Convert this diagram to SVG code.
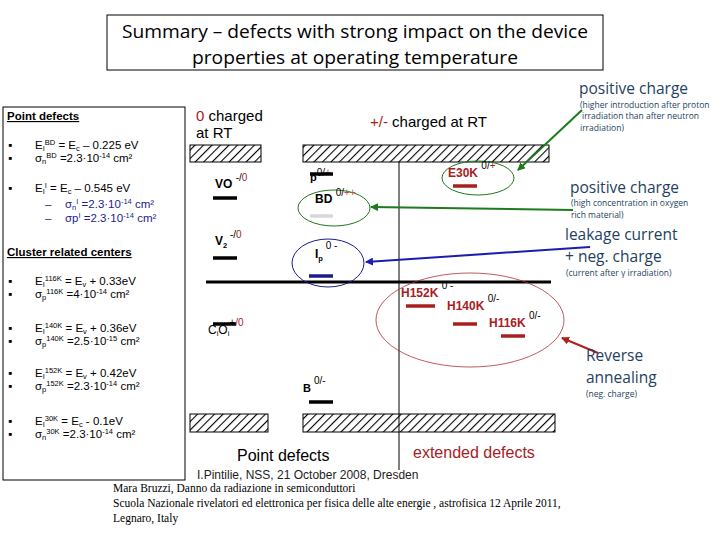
<svg xmlns="http://www.w3.org/2000/svg" width="720" height="540" viewBox="0 0 720 540">
<defs>
<style>
text{font-family:"Liberation Sans",Arial,sans-serif}
.lf{font-size:11.5px;fill:#000}
.hd{font-size:11.5px;font-weight:bold;text-decoration:underline}
.bl{fill:#1c1c8c}
.rd{fill:#a8201e}
.or{fill:#c0502a}
.sm{font-size:7.5px}
.big{font-size:15px}
.lab{font-size:12px;font-weight:bold}
.rl{font-size:12px;font-weight:bold;fill:#a8201e}
.rt{font-family:"Open Sans","Noto Sans",sans-serif;fill:#243f60}
.rt1{font-size:15.5px}
.rt2{font-size:8.5px}
.lvl{stroke-width:3.5}
.ft{font-family:"Liberation Serif",serif;font-size:11.5px}
</style>
<pattern id="hatch" width="6" height="6" patternUnits="userSpaceOnUse" patternTransform="rotate(45)">
<rect width="6" height="6" fill="#fff"/>
<line x1="0" y1="0" x2="0" y2="6" stroke="#000" stroke-width="2.2"/>
</pattern>
<marker id="ag" markerWidth="8" markerHeight="8" refX="7" refY="4" orient="auto" markerUnits="userSpaceOnUse"><path d="M0,0 L8,4 L0,8 z" fill="#1e7a1e"/></marker>
<marker id="ab" markerWidth="8" markerHeight="8" refX="7" refY="4" orient="auto" markerUnits="userSpaceOnUse"><path d="M0,0 L8,4 L0,8 z" fill="#1c1cb0"/></marker>
<marker id="ar" markerWidth="8" markerHeight="8" refX="7" refY="4" orient="auto" markerUnits="userSpaceOnUse"><path d="M0,0 L8,4 L0,8 z" fill="#b0201e"/></marker>
</defs>
<rect width="720" height="540" fill="#fff"/>

<g id="title">
<rect x="107" y="15" width="496" height="55" fill="#fff" stroke="#000" stroke-width="1"/>
<text x="355" y="38" text-anchor="middle" style="font-family:'Open Sans','Noto Sans',sans-serif;font-size:18px" textLength="466" lengthAdjust="spacingAndGlyphs">Summary – defects with strong impact on the device</text>
<text x="355" y="64" text-anchor="middle" style="font-family:'Open Sans','Noto Sans',sans-serif;font-size:18px" textLength="326" lengthAdjust="spacingAndGlyphs">properties at operating temperature</text>
</g>

<g id="left-panel">
<rect x="3" y="107" width="182" height="373" fill="none" stroke="#000" stroke-width="1"/>
<text x="7" y="120" class="hd">Point defects</text>
<text x="8" y="149" class="lf">▪</text>
<text x="8" y="162" class="lf">▪</text>
<text x="35" y="149" class="lf">E<tspan class="sm" dy="2">I</tspan><tspan class="sm" dy="-6">BD</tspan><tspan dy="4"> = E</tspan><tspan class="sm" dy="2">c</tspan><tspan dy="-2"> – 0.225 eV</tspan></text>
<text x="35" y="162" class="lf">σ<tspan class="sm" dy="2">n</tspan><tspan class="sm" dy="-6">BD</tspan><tspan dy="4"> =2.3·10</tspan><tspan class="sm" dy="-4">-14</tspan><tspan dy="4"> cm²</tspan></text>
<text x="8" y="192" class="lf">▪</text>
<text x="35" y="192" class="lf">E<tspan class="sm" dy="2">I</tspan><tspan class="sm" dy="-6">I</tspan><tspan dy="4"> = E</tspan><tspan class="sm" dy="2">c</tspan><tspan dy="-2"> – 0.545 eV</tspan></text>
<text x="45" y="208" class="lf bl">–</text>
<text x="65" y="208" class="lf bl">σ<tspan class="sm" dy="2">n</tspan><tspan class="sm" dy="-6">I</tspan><tspan dy="4"> =2.3·10</tspan><tspan class="sm" dy="-4">-14</tspan><tspan dy="4"> cm²</tspan></text>
<text x="45" y="222" class="lf bl">–</text>
<text x="65" y="222" class="lf bl">σp<tspan class="sm" dy="-4">I</tspan><tspan dy="4"> =2.3·10</tspan><tspan class="sm" dy="-4">-14</tspan><tspan dy="4"> cm²</tspan></text>

<text x="7" y="256" class="hd">Cluster related centers</text>
<text x="8" y="285" class="lf">▪</text>
<text x="8" y="298" class="lf">▪</text>
<text x="35" y="285" class="lf">E<tspan class="sm" dy="2">I</tspan><tspan class="sm" dy="-6">116K</tspan><tspan dy="4"> = E</tspan><tspan class="sm" dy="2">v</tspan><tspan dy="-2"> + 0.33eV</tspan></text>
<text x="35" y="298" class="lf">σ<tspan class="sm" dy="2">p</tspan><tspan class="sm" dy="-6">116K</tspan><tspan dy="4"> =4·10</tspan><tspan class="sm" dy="-4">-14</tspan><tspan dy="4"> cm²</tspan></text>
<text x="8" y="332" class="lf">▪</text>
<text x="8" y="345" class="lf">▪</text>
<text x="35" y="332" class="lf">E<tspan class="sm" dy="2">I</tspan><tspan class="sm" dy="-6">140K</tspan><tspan dy="4"> = E</tspan><tspan class="sm" dy="2">v</tspan><tspan dy="-2"> + 0.36eV</tspan></text>
<text x="35" y="345" class="lf">σ<tspan class="sm" dy="2">p</tspan><tspan class="sm" dy="-6">140K</tspan><tspan dy="4"> =2.5·10</tspan><tspan class="sm" dy="-4">-15</tspan><tspan dy="4"> cm²</tspan></text>
<text x="8" y="377" class="lf">▪</text>
<text x="8" y="390" class="lf">▪</text>
<text x="35" y="377" class="lf">E<tspan class="sm" dy="2">I</tspan><tspan class="sm" dy="-6">152K</tspan><tspan dy="4"> = E</tspan><tspan class="sm" dy="2">v</tspan><tspan dy="-2"> + 0.42eV</tspan></text>
<text x="35" y="390" class="lf">σ<tspan class="sm" dy="2">p</tspan><tspan class="sm" dy="-6">152K</tspan><tspan dy="4"> =2.3·10</tspan><tspan class="sm" dy="-4">-14</tspan><tspan dy="4"> cm²</tspan></text>
<text x="8" y="425" class="lf">▪</text>
<text x="8" y="438" class="lf">▪</text>
<text x="35" y="425" class="lf">E<tspan class="sm" dy="2">I</tspan><tspan class="sm" dy="-6">30K</tspan><tspan dy="4"> = E</tspan><tspan class="sm" dy="2">c</tspan><tspan dy="-2"> - 0.1eV</tspan></text>
<text x="35" y="438" class="lf">σ<tspan class="sm" dy="2">n</tspan><tspan class="sm" dy="-6">30K</tspan><tspan dy="4"> =2.3·10</tspan><tspan class="sm" dy="-4">-14</tspan><tspan dy="4"> cm²</tspan></text>
</g>

<g id="band-diagram">
<text x="196" y="121" class="big"><tspan class="rd">0</tspan> charged</text>
<text x="196" y="138" class="big">at RT</text>
<text x="370" y="127" class="big"><tspan class="rd">+/-</tspan> charged at RT</text>
<rect x="190" y="145" width="71" height="17" fill="url(#hatch)" stroke="#000" stroke-width="1"/>
<rect x="303" y="145" width="246" height="17" fill="url(#hatch)" stroke="#000" stroke-width="1"/>
<rect x="190" y="414" width="78" height="18" fill="url(#hatch)" stroke="#000" stroke-width="1"/>
<rect x="303" y="414" width="252" height="18" fill="url(#hatch)" stroke="#000" stroke-width="1"/>
<line x1="399" y1="162" x2="399" y2="470" stroke="#000" stroke-width="1"/>
<line x1="206" y1="282" x2="551" y2="282" stroke="#000" stroke-width="3"/>
<text x="237" y="461" style="font-size:16px">Point defects</text>
<text x="413" y="458" style="font-size:16px" class="rd">extended defects</text>
</g>

<g id="VO">
<text x="215" y="188" class="lab">VO <tspan dy="-7" style="font-size:10px;font-weight:normal">-/<tspan class="rd">0</tspan></tspan></text>
<line x1="213" y1="198" x2="237" y2="198" stroke="#000" class="lvl"/>
</g>
<g id="V2">
<text x="215" y="245" class="lab">V<tspan class="sm" dy="3">2</tspan><tspan dy="-10" style="font-size:10px;font-weight:normal"> -/<tspan class="rd">0</tspan></tspan></text>
<line x1="213" y1="258" x2="237" y2="258" stroke="#000" class="lvl"/>
</g>
<g id="CiOi">
<line x1="213" y1="324" x2="236" y2="324" stroke="#000" class="lvl"/>
<text x="208" y="334" style="font-size:12px">C<tspan class="sm" dy="2">i</tspan><tspan dy="-2">O</tspan><tspan class="sm" dy="2">i</tspan><tspan dy="-10" style="font-size:10px">+<tspan class="rd">/0</tspan></tspan></text>
</g>
<g id="B">
<text x="303" y="392" class="lab" style="font-size:11px">B <tspan dy="-8" style="font-size:10px;font-weight:normal">0/-</tspan></text>
<line x1="309" y1="402" x2="333" y2="402" stroke="#000" class="lvl"/>
</g>
<g id="P">
<text x="310" y="181" class="lab" style="font-size:11px">p<tspan dy="-5" style="font-size:10px;font-weight:normal">0/<tspan class="or">+</tspan></tspan></text>
<line x1="310" y1="174" x2="333" y2="174" stroke="#000" class="lvl"/>
</g>
<g id="BD">
<ellipse cx="334" cy="208" rx="36" ry="18" fill="none" stroke="#1e7a1e" stroke-width="1"/>
<text x="315" y="203" class="lab">BD <tspan dy="-7" style="font-size:10px;font-weight:normal">0/<tspan class="or">++</tspan></tspan></text>
<line x1="310" y1="216" x2="333" y2="216" stroke="#d8d8d8" class="lvl"/>
</g>
<g id="Ip">
<ellipse cx="328" cy="263" rx="36" ry="24" fill="none" stroke="#1c1c8c" stroke-width="1"/>
<text x="315" y="258" class="lab">I<tspan class="sm" dy="3">p</tspan><tspan dy="-12" style="font-size:10px;font-weight:normal"> 0 -</tspan></text>
<line x1="309" y1="276" x2="333" y2="276" stroke="#1c1c8c" class="lvl"/>
</g>
<g id="E30K">
<ellipse cx="478" cy="178" rx="36" ry="17" fill="none" stroke="#1e7a1e" stroke-width="1"/>
<text x="448" y="177" class="rl">E30K <tspan dy="-8" style="font-size:10px;font-weight:normal;fill:#000">0/<tspan class="rd">+</tspan></tspan></text>
<line x1="453" y1="186" x2="477" y2="186" stroke="#a8201e" class="lvl"/>
</g>
<g id="H-defects">
<ellipse cx="470" cy="320" rx="94" ry="47" fill="none" stroke="#b03030" stroke-width="0.8"/>
<text x="401" y="297" class="rl">H152K <tspan dy="-8" style="font-size:10px;font-weight:normal;fill:#000">0 -</tspan></text>
<line x1="406" y1="306" x2="435" y2="306" stroke="#a8201e" class="lvl"/>
<text x="447" y="310" class="rl">H140K <tspan dy="-8" style="font-size:10px;font-weight:normal;fill:#000">0/-</tspan></text>
<line x1="453" y1="324" x2="477" y2="324" stroke="#a8201e" class="lvl"/>
<text x="489" y="327" class="rl">H116K <tspan dy="-8" style="font-size:10px;font-weight:normal;fill:#000">0/-</tspan></text>
<line x1="501" y1="336" x2="525" y2="336" stroke="#a8201e" class="lvl"/>
</g>

<g id="connectors" fill="none">
<line x1="582" y1="110" x2="518" y2="170" stroke="#1e7a1e" stroke-width="2" marker-end="url(#ag)"/>
<line x1="573" y1="210" x2="371" y2="207" stroke="#1e7a1e" stroke-width="2" marker-end="url(#ag)"/>
<line x1="590" y1="247" x2="366" y2="262" stroke="#1c1cb0" stroke-width="2" marker-end="url(#ab)"/>
<line x1="598" y1="353" x2="562" y2="338" stroke="#b0201e" stroke-width="2" marker-end="url(#ar)"/>
</g>

<g id="notes">
<text x="579" y="94" class="rt rt1">positive charge</text>
<text x="580" y="108" class="rt rt2">(higher introduction after proton</text>
<text x="582" y="119" class="rt rt2">irradiation than after neutron</text>
<text x="580" y="131" class="rt rt2">irradiation)</text>
<text x="570" y="193" class="rt rt1">positive charge</text>
<text x="571" y="206" class="rt rt2">(high concentration in oxygen</text>
<text x="571" y="218" class="rt rt2">rich material)</text>
<text x="565" y="240" class="rt rt1">leakage current</text>
<text x="565" y="262" class="rt rt1">+ neg. charge</text>
<text x="566" y="276" class="rt rt2">(current after γ irradiation)</text>
<text x="586" y="361" class="rt rt1">Reverse</text>
<text x="586" y="383" class="rt rt1">annealing</text>
<text x="586" y="397" class="rt rt2">(neg. charge)</text>
</g>

<g id="footer">
<text x="197" y="479" style="font-size:12px;fill:#222">I.Pintilie, NSS, 21 October 2008, Dresden</text>
<text x="113" y="492" class="ft">Mara Bruzzi, Danno da radiazione in semiconduttori</text>
<text x="113" y="507" class="ft">Scuola Nazionale rivelatori ed elettronica per fisica delle alte energie , astrofisica  12 Aprile  2011,</text>
<text x="113" y="522" class="ft">Legnaro, Italy</text>
</g>
</svg>
